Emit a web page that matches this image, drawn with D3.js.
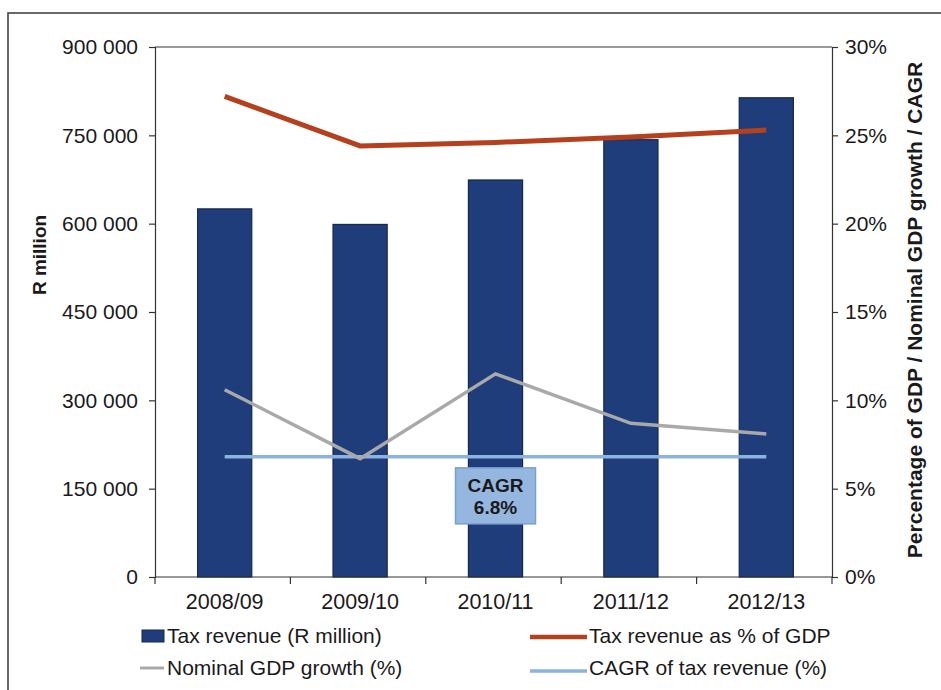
<!DOCTYPE html>
<html><head><meta charset="utf-8">
<script src="https://cdn.jsdelivr.net/npm/d3@7"></script>
<style>
body{margin:0;background:#fff;}
text{font-family:"Liberation Sans",Arial,sans-serif;fill:#1a1a1a;}
</style></head>
<body><svg id="c" width="941" height="690"></svg>
<script>
const categories = ["2008/09","2009/10","2010/11","2011/12","2012/13"];
const taxRevenue = [625100, 598700, 674200, 742600, 813800];
const taxPctGDP = [27.2, 24.4, 24.6, 24.9, 25.3];
const nominalGDPGrowth = [10.6, 6.7, 11.5, 8.7, 8.1];
const cagr = [6.8, 6.8, 6.8, 6.8, 6.8];
const leftTicks = [0,150000,300000,450000,600000,750000,900000];
const rightTicks = [0,5,10,15,20,25,30];
const cagrLabel = ["CAGR","6.8%"];
const legendItems = ["Tax revenue (R million)","Tax revenue as % of GDP","Nominal GDP growth (%)","CAGR of tax revenue (%)"];

const svg = d3.select("#c");
const L=155, R=832, T=47, B=577;
const x = d3.scaleBand().domain(categories).range([L+2,R+2]).paddingInner(0.6).paddingOuter(0.3);
const xc = d => x(d)+x.bandwidth()/2;
const yL = d3.scaleLinear().domain([0,900000]).range([B,T]);
const yR = d3.scaleLinear().domain([0,30]).range([B,T]);
const loc = d3.formatLocale({decimal:".",thousands:" ",grouping:[3],currency:["",""]});
const fmt = loc.format(",");

// frame
svg.append("rect").attr("x",8).attr("y",13).attr("width",1000).attr("height",1000)
  .attr("fill","none").attr("stroke","#444").attr("stroke-width",1.6);

// plot top border
svg.append("line").attr("x1",L).attr("x2",R).attr("y1",T).attr("y2",T).attr("stroke","#333").attr("stroke-width",1.2);

// bars
svg.append("g").selectAll("rect").data(taxRevenue).join("rect")
  .attr("x",(d,i)=>x(categories[i])).attr("width",x.bandwidth())
  .attr("y",d=>yL(d)).attr("height",d=>B-yL(d))
  .attr("fill","#1f3d7a").attr("stroke","#16284f").attr("stroke-width",1.2);

// axes
const gl = svg.append("g").attr("transform",`translate(${L},0)`)
  .call(d3.axisLeft(yL).tickValues(leftTicks).tickFormat(fmt).tickSize(6).tickPadding(11));
const gr = svg.append("g").attr("transform",`translate(${R},0)`)
  .call(d3.axisRight(yR).tickValues(rightTicks).tickFormat(d=>d+"%").tickSize(6).tickPadding(7));
const gb = svg.append("g").attr("transform",`translate(0,${B})`)
  .call(d3.axisBottom(x).tickSize(0).tickPadding(17));
svg.select(".domain");
// category boundary ticks
const bounds = d3.range(categories.length+1).map(i=>L+i*(R-L)/categories.length);
svg.append("g").selectAll("line").data(bounds).join("line")
  .attr("x1",d=>d).attr("x2",d=>d).attr("y1",B).attr("y2",B+7).attr("stroke","#333").attr("stroke-width",1.2);
[gl,gr,gb].forEach(g=>{
  g.selectAll(".domain").attr("stroke","#333").attr("stroke-width",1.2);
  g.selectAll(".tick line").attr("stroke","#333").attr("stroke-width",1.2);
  g.selectAll("text").attr("font-size",21).attr("font-family","Liberation Sans, Arial, sans-serif").attr("fill","#1a1a1a");
});
gb.select(".domain").attr("d",`M${L},0H${R}`);
gb.selectAll("text").attr("font-size",21.5);

// lines
const line = d3.line().x((d,i)=>xc(categories[i])).y(d=>yR(d));
svg.append("path").datum(cagr).attr("d",line).attr("fill","none").attr("stroke","#8cb3e0").attr("stroke-width",3.5);
svg.append("path").datum(nominalGDPGrowth).attr("d",line).attr("fill","none").attr("stroke","#a9a9a9").attr("stroke-width",3.5);
svg.append("path").datum(taxPctGDP).attr("d",line).attr("fill","none").attr("stroke","#b5401d").attr("stroke-width",5);

// CAGR label box
const bx = xc(categories[2]), by = yR(cagr[2]);
svg.append("rect").attr("x",bx-40).attr("y",by+11).attr("width",80).attr("height",56)
  .attr("fill","#94b6df").attr("stroke","#7aa0d0").attr("stroke-width",1.5);
svg.append("g").selectAll("text").data(cagrLabel).join("text")
  .attr("x",bx).attr("y",(d,i)=>by+35+i*22).attr("text-anchor","middle")
  .attr("font-size",19).attr("font-weight","bold").text(d=>d);

// axis titles
svg.append("text").attr("transform",`translate(46,255) rotate(-90)`)
  .attr("text-anchor","middle").attr("font-size",19).attr("font-weight","bold").text("R million");
svg.append("text").attr("transform",`translate(922,310) rotate(-90)`)
  .attr("text-anchor","middle").attr("font-size",21).attr("font-weight","bold").text("Percentage of GDP / Nominal GDP growth / CAGR");

// legend
const leg = svg.append("g");
leg.append("rect").attr("x",142).attr("y",630).attr("width",22).attr("height",12).attr("fill","#1f3d7a").attr("stroke","#16284f");
leg.append("line").attr("x1",530).attr("x2",587).attr("y1",637).attr("y2",637).attr("stroke","#b5401d").attr("stroke-width",4.5);
leg.append("line").attr("x1",140).attr("x2",164).attr("y1",668).attr("y2",668).attr("stroke","#a9a9a9").attr("stroke-width",3);
leg.append("line").attr("x1",530).attr("x2",587).attr("y1",671).attr("y2",671).attr("stroke","#8cb3e0").attr("stroke-width",3.5);
const lpos = [[167,636],[589,636],[167,668],[589,668]];
leg.selectAll("text").data(legendItems).join("text")
  .attr("x",(d,i)=>lpos[i][0]).attr("y",(d,i)=>lpos[i][1]).attr("dy","0.35em")
  .attr("font-size",21).text(d=>d);
</script></body></html>
